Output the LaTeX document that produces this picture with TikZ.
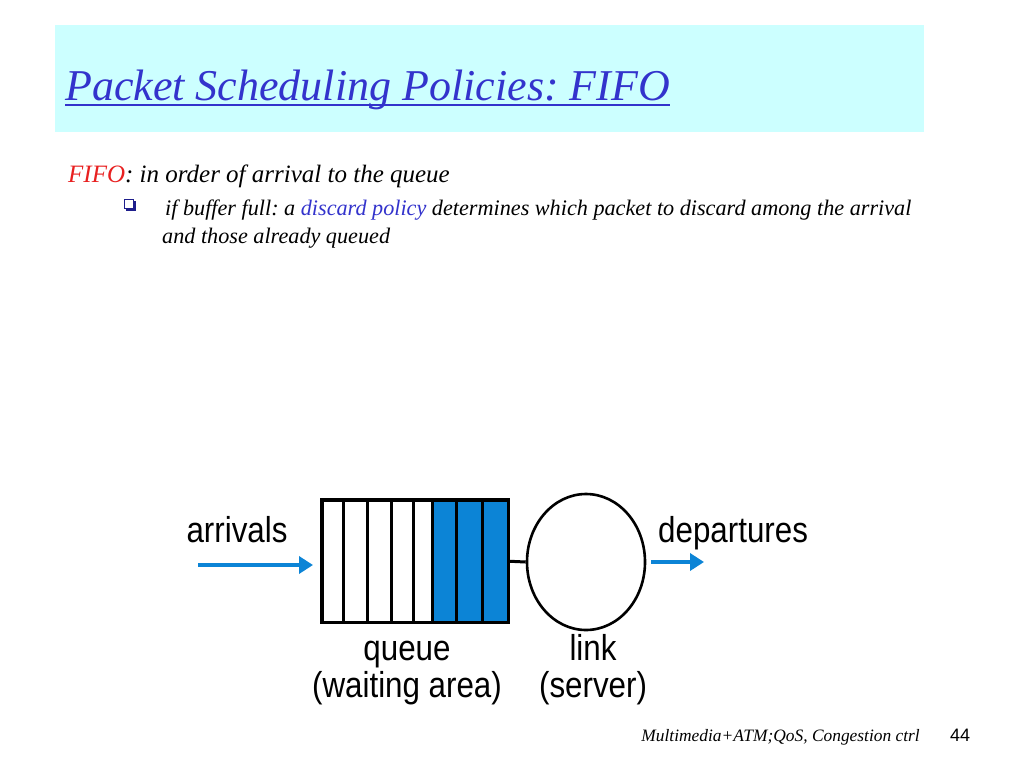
\documentclass[tikz,border=0pt]{standalone}
\usepackage{fontspec}
\setmainfont{Liberation Serif}
\setsansfont{Liberation Sans}
\newfontfamily\figfont[FakeStretch=0.87]{Liberation Sans}
\usetikzlibrary{positioning,arrows.meta,calc,shapes.geometric}
\usepackage{xcolor}
\frenchspacing
\definecolor{slideHead}{RGB}{204,255,255}
\definecolor{slideTitle}{RGB}{51,51,204}
\definecolor{slideRed}{RGB}{232,32,32}
\definecolor{slideNavy}{RGB}{30,30,140}
\definecolor{pktBlue}{RGB}{12,132,214}

\begin{document}
\begin{tikzpicture}[x=1pt,y=-1pt,
    flow/.style={draw=pktBlue, line width=3.5pt, -{Triangle[length=14pt,width=17pt]}},
    figlabel/.style={font=\figfont\fontsize{36}{37}\selectfont, inner sep=0, align=center}]
    \useasboundingbox[fill=white] (0,0) rectangle (1024,768);
    % title bar
    \fill[slideHead] (55,25) rectangle (924,132);
    \node[font=\fontsize{44}{50}\selectfont\itshape, text=slideTitle, anchor=base west, inner sep=0] (title) at (65,100)
      {Packet Scheduling Policies: FIFO\ };
    \draw[slideTitle, line width=1.8pt] ($(title.base west)+(0,5)$) -- ($(title.base east)+(0,5)$);
    % text
    \node[font=\fontsize{25}{28}\selectfont\itshape, anchor=base west, inner sep=0] (fifo) at (68,182)
      {\textcolor{slideRed}{FIFO}: in order of arrival to the queue};
    \node[draw=slideNavy, fill=white, line width=0.9pt, minimum size=9pt, inner sep=0] (bullet) at (129,204) {};
    \draw[slideNavy, line width=1.8pt] ($(bullet.south west)+(1.5,1)$) -| ($(bullet.north east)+(1,1.5)$);
    \node[font=\fontsize{22.2}{25}\selectfont\itshape, anchor=base west, inner sep=0] (rule) at (165,215)
      {if buffer full: a \textcolor{slideTitle}{discard policy} determines which packet to discard among the arrival};
    \node[font=\fontsize{22.2}{25}\selectfont\itshape, anchor=base west, inner sep=0] (rule2) at (162,243)
      {and those already queued};
    % queue and link
    \node[minimum width=186pt, minimum height=122pt, anchor=north west, inner sep=0] (queue) at (322,500) {};
    \fill[pktBlue] ($(queue.north west)+(110,0)$) rectangle (queue.south east);
    \foreach \dx in {21,45,69,91,110,134,160}
      \draw[line width=3pt] ($(queue.north west)+(\dx,0)$) -- ($(queue.south west)+(\dx,0)$);
    \draw[line width=3.4pt] (queue.north west) rectangle (queue.south east);
    \node[draw, ellipse, line width=2.6pt, minimum width=118pt, minimum height=136pt, inner sep=0] (link) at (586,562) {};
    \draw[line width=3pt] (queue.east) -- (link.west);
    % arrows
    \coordinate (arrin) at (198,565);
    \coordinate (depout) at (704,562);
    \draw[flow] (arrin) -- ($(queue.west |- arrin)+(-9,0)$);
    \draw[flow] ($(link.east |- depout)+(5,0)$) -- (depout);
    % labels
    \node[figlabel, anchor=base] (arrlbl) at (237,542) {arrivals};
    \node[figlabel, anchor=base west] (deplbl) at (658,542) {departures};
    \node[figlabel, anchor=base] (qlbl) at (407,697) {queue\\(waiting area)};
    \node[figlabel, anchor=base] (llbl) at (593,697) {link\\(server)};
    % footer
    \node[font=\fontsize{17.4}{20}\selectfont\itshape, anchor=base east, inner sep=0] (foot) at (920,741)
      {Multimedia+ATM;QoS, Congestion ctrl};
    \node[font=\sffamily\fontsize{18}{20}\selectfont, anchor=base west, inner sep=0] (page) at (950,741) {44};
\end{tikzpicture}
\end{document}
